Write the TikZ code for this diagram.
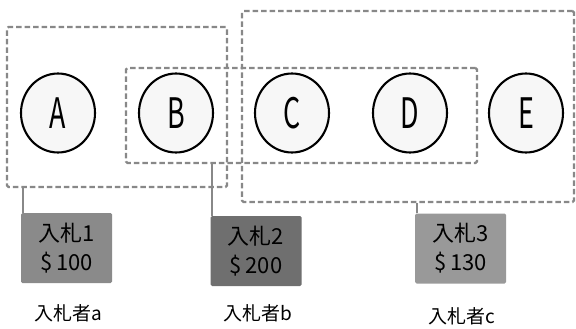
\documentclass[tikz,border=0pt]{standalone}
\usepackage{fontspec}
\usepackage{graphicx}
\setmainfont{Noto Sans CJK JP}
\definecolor{dashgray}{HTML}{888888}
\definecolor{bidA}{HTML}{8A8A8A}
\definecolor{bidB}{HTML}{6F6F6F}
\definecolor{bidC}{HTML}{999999}
\definecolor{circfill}{HTML}{F7F7F7}
\tikzset{
  grp/.style={draw=dashgray, line width=2.4pt, dash pattern=on 5.5pt off 3pt, rounded corners=1.5pt, inner sep=0pt},
  item/.style={draw=black, line width=2.1pt, fill=circfill, ellipse, minimum width=74pt, minimum height=79pt, inner sep=0pt},
  bid/.style={rounded corners=1.5pt, inner sep=0pt, minimum width=91pt, minimum height=70pt, align=center, font=\fontsize{22}{29}\selectfont},
  link/.style={draw=dashgray, line width=2.2pt},
  who/.style={font=\fontsize{19}{19}\selectfont}
}
\usetikzlibrary{shapes.geometric}
\newcommand{\bigletter}[1]{\scalebox{0.64}[1]{\fontsize{42}{42}\selectfont #1}}
\begin{document}
\begin{tikzpicture}[x=1pt,y=-1pt]
\useasboundingbox (0,0) rectangle (576,329);
% group frames
\node[grp, minimum width=220pt, minimum height=160pt] (grpA) at (117,107) {};
\node[grp, minimum width=351pt, minimum height=95pt] (grpB) at (301.5,115.5) {};
\node[grp, minimum width=332pt, minimum height=191pt] (grpC) at (408,106.5) {};
% items
\node[item] (A) at (58,113) {\bigletter{A}};
\node[item] (B) at (176,113) {\bigletter{B}};
\node[item] (C) at (292,113) {\bigletter{C}};
\node[item] (D) at (410,113) {\bigletter{D}};
\node[item] (E) at (526,113) {\bigletter{E}};
% bids
\node[bid, fill=bidA] (bid1) at (66.5,248) {入札1\\\$\,100};
\node[bid, fill=bidB] (bid2) at (256,251) {入札2\\\$\,200};
\node[bid, fill=bidC] (bid3) at (460.5,248.5) {入札3\\\$\,130};
% connectors
\draw[link] ([xshift=2pt]bid1.north west) -- ([xshift=2pt]bid1.north west |- grpA.south);
\draw[link] ([xshift=2pt]bid2.north west) -- ([xshift=2pt]bid2.north west |- grpB.south);
\draw[link] ([xshift=2pt]bid3.north west) -- ([xshift=2pt]bid3.north west |- grpC.south);
% bidders
\node[who] (wa) at (68,313) {入札者a};
\node[who] (wb) at (258,313) {入札者b};
\node[who] (wc) at (462,316) {入札者c};
\end{tikzpicture}
\end{document}
